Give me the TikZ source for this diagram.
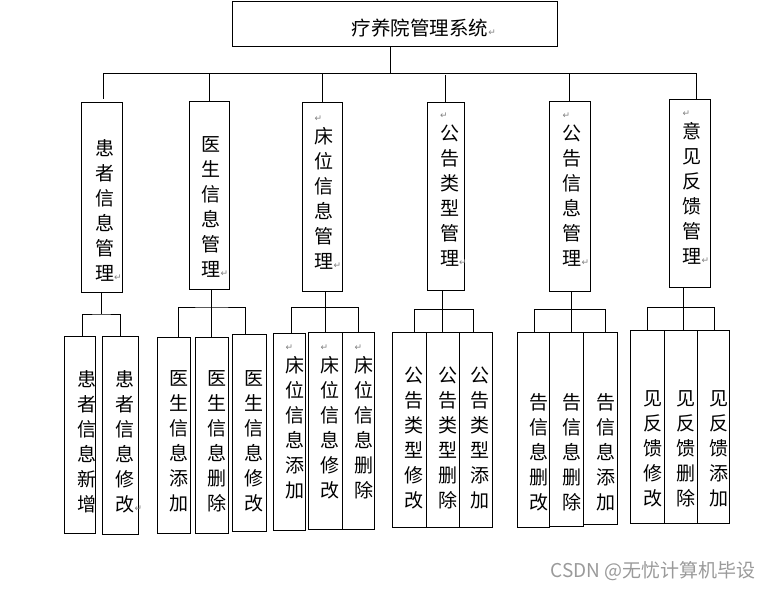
\documentclass[tikz,border=0pt]{standalone}
\usepackage{fontspec}
\setmainfont{Noto Sans CJK SC}
\newfontfamily\retfont{DejaVu Sans}
\definecolor{markgray}{HTML}{808080}
\definecolor{wmgray}{HTML}{9A9A9A}
% Word paragraph mark
\newcommand{\retmark}{{\retfont\fontsize{9}{9}\selectfont\color{markgray}↵}}
\newcommand{\topret}{\makebox[19pt][l]{\retmark}\\[-3pt]}

\begin{document}
\begin{tikzpicture}[x=1pt, y=-1pt,
  framebox/.style={draw, line width=1pt, inner sep=0pt},
  cell/.style 2 args={framebox, minimum width=#1, minimum height=#2},
  coltext/.style={align=center, inner sep=0pt, anchor=north,
    font=\fontsize{19}{25}\selectfont},
  link/.style={line width=1pt}]

\useasboundingbox (0,0) rectangle (772,589);

% Top box
\node[cell={324.6}{44.6}] (title) at (395,24) {};
\node[inner sep=0pt, font=\fontsize{19.5}{20}\selectfont] (titletext) at (420,28)
  {疗养院管理系统\rlap{\retmark}};

% Modules
\node[cell={41}{190}] (pat)   at (101.5,197) {};
\node[cell={40}{188}] (doc)   at (209,195)   {};
\node[cell={40}{189}] (bed)   at (322,196.5) {};
\node[cell={37}{188}] (ntype) at (445.5,196) {};
\node[cell={41}{190}] (ninfo) at (569.5,196) {};
\node[cell={41}{188}] (fb)    at (689.5,193) {};

\node[coltext] (pattext)   at (104.5,139) {患\\者\\信\\息\\管\\理\rlap{\retmark}};
\node[coltext] (doctext)   at (211,136)   {医\\生\\信\\息\\管\\理\rlap{\retmark}};
\node[coltext] (bedtext)   at (324,116)   {\topret 床\\位\\信\\息\\管\\理\rlap{\retmark}};
\node[coltext] (ntypetext) at (449.5,113) {\topret 公\\告\\类\\型\\管\\理\rlap{\retmark}};
\node[coltext] (ninfotext) at (572,113)   {\topret 公\\告\\信\\息\\管\\理\rlap{\retmark}};
\node[coltext] (fbtext)    at (692,111)   {\topret 意\\见\\反\\馈\\管\\理\rlap{\retmark}};

% Functions
\node[cell={31}{197}] (patadd)  at (79.5,434.5) {};
\node[cell={36}{198}] (patedit) at (120,435)    {};
\node[cell={33}{196}] (docadd)  at (173.5,435)  {};
\node[cell={33}{196}] (docdel)  at (211.5,435)  {};
\node[cell={34}{197}] (docedit) at (249,432.5)  {};
\node[cell={32}{197}] (bedadd)  at (289,431.5)  {};
\node[cell={34}{197}] (bededit) at (325,430.5)  {};
\node[cell={32}{197}] (beddel)  at (358,430.5)  {};
\node[cell={34}{195}] (ntedit)  at (409,429.5)  {};
\node[cell={33}{195}] (ntdel)   at (442.5,429.5) {};
\node[cell={33}{195}] (ntadd)   at (475.5,429.5) {};
\node[cell={32}{195}] (niedit)  at (533,429.5)  {};
\node[cell={34}{194}] (nidel)   at (566,429)    {};
\node[cell={34}{192}] (niadd)   at (600,428)    {};
\node[cell={34}{193}] (fbedit)  at (647,426.5)  {};
\node[cell={33}{193}] (fbdel)   at (680.5,426.5) {};
\node[cell={32}{193}] (fbadd)   at (713,426.5)  {};

\node[coltext] (pataddtext)  at (87,370)  {患\\者\\信\\息\\新\\增};
\node[coltext] (pateditext)  at (125,370) {患\\者\\信\\息\\修\\改\rlap{\retmark}};
\node[coltext] (docaddtext)  at (179,370) {医\\生\\信\\息\\添\\加};
\node[coltext] (docdeltext)  at (217,370) {医\\生\\信\\息\\删\\除};
\node[coltext] (doceditext)  at (254,370) {医\\生\\信\\息\\修\\改};
\node[coltext] (bedaddtext)  at (295,345) {\topret 床\\位\\信\\息\\添\\加};
\node[coltext] (bededitext)  at (330,345) {\topret 床\\位\\信\\息\\修\\改};
\node[coltext] (beddeltext)  at (364,345) {\topret 床\\位\\信\\息\\删\\除};
\node[coltext] (nteditext)   at (414,367) {公\\告\\类\\型\\修\\改};
\node[coltext] (ntdeltext)   at (448,367) {公\\告\\类\\型\\删\\除};
\node[coltext] (ntaddtext)   at (480,367) {公\\告\\类\\型\\添\\加};
\node[coltext] (nieditext)   at (539,393) {告\\信\\息\\删\\改};
\node[coltext] (nideltext)   at (572,393) {告\\信\\息\\删\\除};
\node[coltext] (niaddtext)   at (606,393) {告\\信\\息\\添\\加};
\node[coltext] (fbeditext)   at (653,390) {见\\反\\馈\\修\\改};
\node[coltext] (fbdeltext)   at (686,390) {见\\反\\馈\\删\\除};
\node[coltext] (fbaddtext)   at (719,390) {见\\反\\馈\\添\\加};

% Top level links
\coordinate (bus) at (390,73.3);
\draw[link] (title.south -| bus) -- (bus);
\draw[link] ([xshift=1.5pt]pat.north |- bus) -- ([xshift=6.5pt]fb.north |- bus);
\draw[link] ([xshift=1.5pt]pat.north |- bus) -- ([xshift=1.5pt,yshift=2.7pt]pat.north);
\foreach \m in {doc,bed,ninfo}
  \draw[link] (\m.north |- bus) -- (\m.north);
\draw[link] ([yshift=-2pt]ntype.north |- bus) -- (ntype.north);
\draw[link] ([xshift=6.5pt]fb.north |- bus) -- ([xshift=6.5pt]fb.north);

% Second level links
\coordinate (patj) at (pat.south |- 0,314);
\draw[link] (pat.south) -- (patj);
\draw[link] ([xshift=2.5pt]patadd.north) |- (patj) -| (patedit.north);

\coordinate (docj) at (docdel.north |- 0,307);
\draw[link] (docdel.north |- doc.south) -- (docdel.north);
\draw[link] ([xshift=4.5pt]docadd.north) |- (docj) -| ([xshift=-4pt]docedit.north);

\coordinate (bedj) at (bededit.north |- 0,307.7);
\draw[link] (bededit.north |- bed.south) -- (bededit.north);
\draw[link] ([xshift=2.5pt]bedadd.north) |- (bedj) -| (beddel.north);

\coordinate (ntj) at (ntdel.north |- 0,309.3);
\draw[link] (ntdel.north |- ntype.south) -- (ntdel.north);
\draw[link] ([xshift=5pt]ntedit.north) |- (ntj) -| ([xshift=-2pt]ntadd.north);

\coordinate (nij) at ([xshift=5pt]nidel.north |- 0,309.3);
\draw[link] (nij |- ninfo.south) -- (nij |- nidel.north);
\draw[link] ([xshift=1.5pt]niedit.north) |- (nij) -| ([xshift=5pt]niadd.north);

\coordinate (fbj) at ([xshift=2.5pt]fbdel.north |- 0,307.3);
\draw[link] (fbj |- fb.south) -- (fbj |- fbdel.north);
\draw[link] (fbedit.north) |- (fbj) -| ([xshift=1.5pt]fbadd.north);

% Watermark
\node[inner sep=0pt, text=wmgray, font=\fontsize{19}{19}\selectfont] (wm) at (653,571)
  {CSDN @无忧计算机毕设};

\end{tikzpicture}
\end{document}
